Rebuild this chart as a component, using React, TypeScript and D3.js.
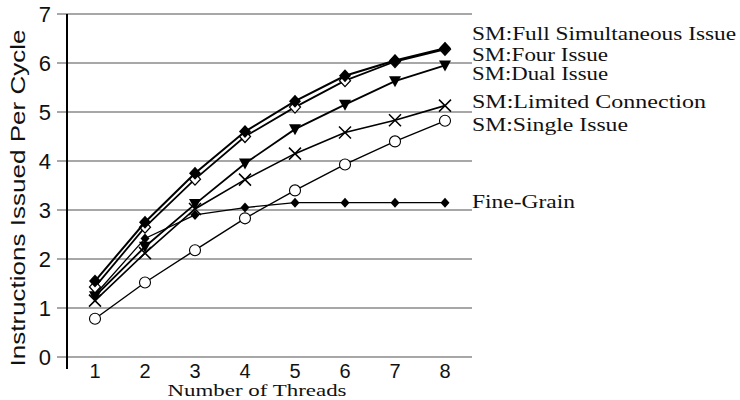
import React from "react";
import * as d3 from "d3";

const threads = [1, 2, 3, 4, 5, 6, 7, 8];
const yTicks = [0, 1, 2, 3, 4, 5, 6, 7];
const fullSim = [1.55, 2.75, 3.75, 4.6, 5.22, 5.74, 6.05, 6.3];
const fourIssue = [1.43, 2.65, 3.63, 4.5, 5.1, 5.64, 6.03, 6.28];
const dualIssue = [1.24, 2.25, 3.12, 3.95, 4.65, 5.15, 5.63, 5.95];
const limitedConn = [1.15, 2.12, 3.02, 3.62, 4.15, 4.58, 4.83, 5.13];
const singleIssue = [0.78, 1.52, 2.18, 2.83, 3.4, 3.93, 4.4, 4.82];
const fineGrain = [1.27, 2.42, 2.9, 3.05, 3.15, 3.15, 3.15, 3.15];

const labels = [
  { text: "SM:Full Simultaneous Issue", y: 33, w: 264 },
  { text: "SM:Four Issue", y: 54, w: 136 },
  { text: "SM:Dual Issue", y: 73, w: 136 },
  { text: "SM:Limited Connection", y: 101, w: 234 },
  { text: "SM:Single Issue", y: 124, w: 156 },
  { text: "Fine-Grain", y: 201, w: 103 },
];

type Series = { values: number[]; marker: string; width: number };
const series: Series[] = [
  { values: fineGrain, marker: "smallDiamond", width: 1.3 },
  { values: singleIssue, marker: "circle", width: 1.4 },
  { values: limitedConn, marker: "x", width: 1.6 },
  { values: dualIssue, marker: "triangle", width: 1.8 },
  { values: fourIssue, marker: "openDiamond", width: 1.8 },
  { values: fullSim, marker: "diamond", width: 2 },
];

export default function App() {
  const x = d3.scaleLinear().domain([0.44, 8.54]).range([67, 472]);
  const y = d3.scaleLinear().domain([0, 7]).range([357, 14]);
  const line = d3
    .line<number>()
    .x((_, i) => x(threads[i]))
    .y((d) => y(d));

  const marker = (kind: string, cx: number, cy: number, key: string) => {
    switch (kind) {
      case "diamond":
        return <path key={key} d={`M${cx},${cy - 6.5}L${cx + 6},${cy}L${cx},${cy + 6.5}L${cx - 6},${cy}Z`} fill="#000" />;
      case "smallDiamond":
        return <path key={key} d={`M${cx},${cy - 5}L${cx + 4.5},${cy}L${cx},${cy + 5}L${cx - 4.5},${cy}Z`} fill="#000" />;
      case "openDiamond":
        return <path key={key} d={`M${cx},${cy - 6}L${cx + 5.5},${cy}L${cx},${cy + 6}L${cx - 5.5},${cy}Z`} fill="#fff" stroke="#000" strokeWidth={1.3} />;
      case "triangle":
        return <path key={key} d={`M${cx - 6},${cy - 5}L${cx + 6},${cy - 5}L${cx},${cy + 6}Z`} fill="#000" />;
      case "x":
        return <path key={key} d={`M${cx - 6},${cy - 6}L${cx + 6},${cy + 6}M${cx - 6},${cy + 6}L${cx + 6},${cy - 6}`} stroke="#000" strokeWidth={1.5} />;
      case "circle":
        return <circle key={key} cx={cx} cy={cy} r={5.5} fill="#fff" stroke="#000" strokeWidth={1.1} />;
    }
    return null;
  };

  return (
    <svg width={740} height={400} style={{ position: "absolute", left: 0, top: 0, background: "#fff" }}>
      <rect width={740} height={400} fill="#fff" />
      {yTicks.map((t) => (
        <g key={t}>
          <line x1={57} x2={472} y1={y(t)} y2={y(t)} stroke="#8a8a8a" strokeWidth={1.5} />
          <text x={51} y={y(t)} dy="0.36em" textAnchor="end" fontFamily="Liberation Sans, Arial, sans-serif" fontSize={22} fill="#111">
            {t}
          </text>
        </g>
      ))}
      <line x1={67} x2={67} y1={14} y2={369} stroke="#000" strokeWidth={2} />
      {threads.map((t) => (
        <text key={t} x={x(t)} y={378} textAnchor="middle" fontFamily="Liberation Sans, Arial, sans-serif" fontSize={20} fill="#111">
          {t}
        </text>
      ))}
      <text x={257} y={396} textAnchor="middle" textLength={179} lengthAdjust="spacingAndGlyphs" fontFamily="Liberation Serif, Times New Roman, serif" fontSize={17} fill="#111">
        Number of Threads
      </text>
      <text
        transform="translate(25,198) rotate(-90)"
        textAnchor="middle"
        textLength={337}
        lengthAdjust="spacingAndGlyphs"
        fontFamily="Liberation Sans, Arial, sans-serif"
        fontSize={20}
        fill="#111"
      >
        Instructions  Issued  Per  Cycle
      </text>
      {series.map((s, si) => (
        <g key={si}>
          <path d={line(s.values) || ""} fill="none" stroke="#000" strokeWidth={s.width} />
          {s.values.map((v, i) => marker(s.marker, x(threads[i]), y(v), `${si}-${i}`))}
        </g>
      ))}
      {labels.map((l) => (
        <text key={l.text} x={472} y={l.y} dy="0.36em" textLength={l.w} lengthAdjust="spacingAndGlyphs" fontFamily="Liberation Serif, Times New Roman, serif" fontSize={19} fill="#111">
          {l.text}
        </text>
      ))}
    </svg>
  );
}
